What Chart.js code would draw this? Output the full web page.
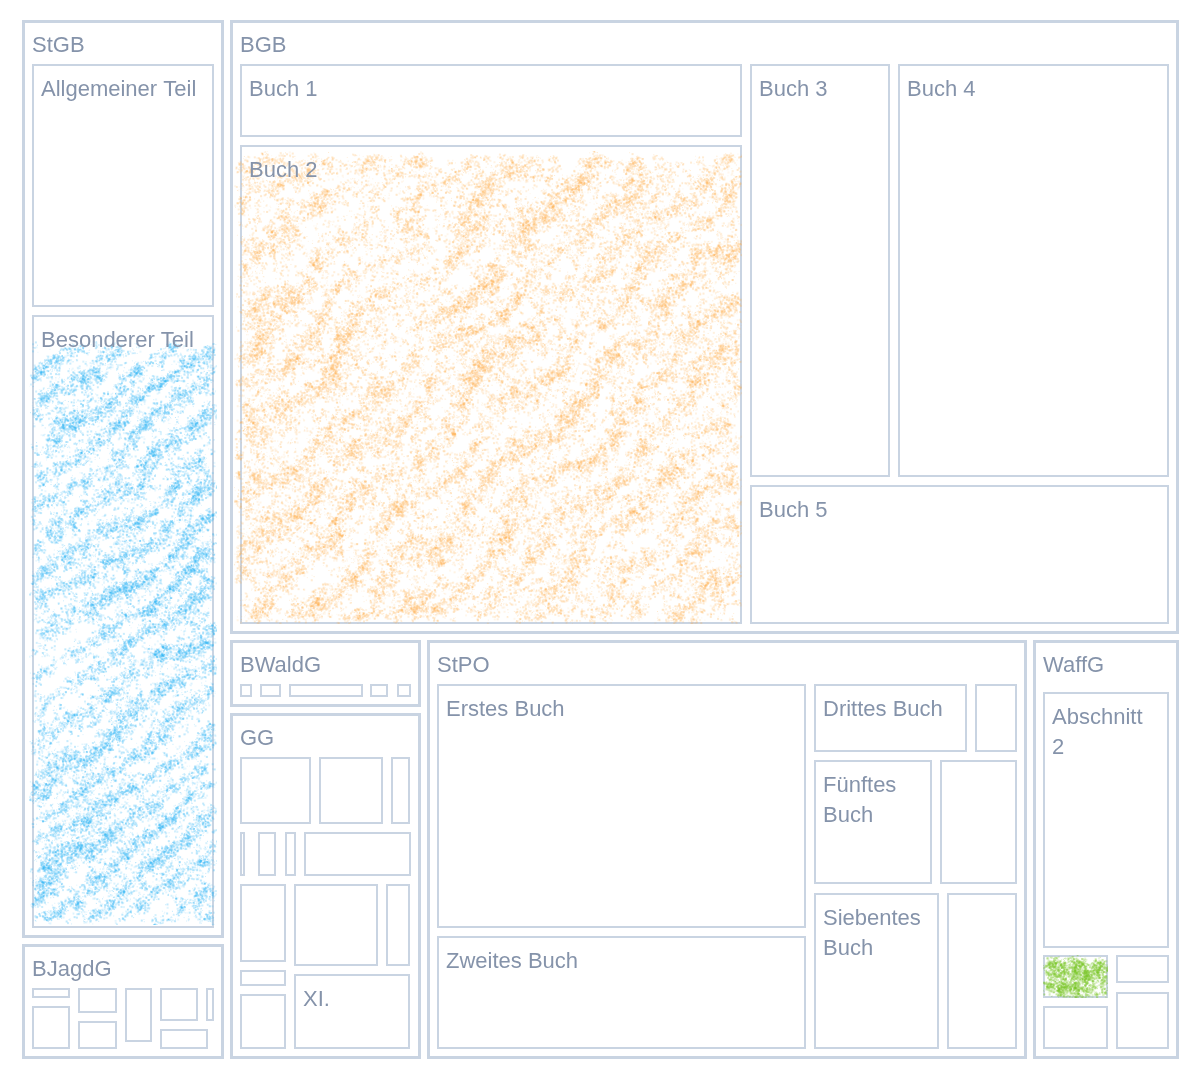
<!DOCTYPE html>
<html>
<head>
<meta charset="utf-8">
<script src="https://cdn.jsdelivr.net/npm/chart.js@4.4.1/dist/chart.umd.min.js"></script>
<style>
  html, body { margin: 0; padding: 0; background: #ffffff; }
  #wrap { width: 1196px; height: 1080px; }
  canvas { display: block; }
</style>
</head>
<body>
<div id="wrap"><canvas id="c" width="1196" height="1080" style="width:1196px;height:1080px"></canvas></div>
<script>
// ---------------- DATA ----------------
const laws = ['StGB', 'BJagdG', 'BGB', 'BWaldG', 'GG', 'StPO', 'WaffG'];

const stgbLabels = ['Allgemeiner Teil', 'Besonderer Teil'];
const stgbValues = [55.26, 136.93];

const bjagdgLabels = ['', '', '', '', '', '', '', '', '', ''];
const bjagdgValues = [1.567, 4.526, 2.935, 3.291, 4.173, 0.464, 3.656, 1.272, 2.967, 0.318];

const bgbLabels = ['Buch 1', 'Buch 2', 'Buch 3', 'Buch 4', 'Buch 5'];
const bgbValues = [46.12, 275.84, 69.28, 130.83, 70.03];

const bwaldgLabels = ['', '', '', '', ''];
const bwaldgValues = [1.604, 2.305, 6.560, 2.128, 1.749];

const ggLabels = ['', '', '', '', '', '', '', '', '', '', '', '', '', 'XI.'];
const ggValues = [7.675, 6.995, 2.623, 0.842, 0.391, 1.778, 1.280, 7.699, 6.015, 1.658, 4.427, 10.725, 3.730, 13.331];

const stpoLabels = ['Erstes Buch', 'Zweites Buch', 'Drittes Buch', 'Viertes Buch', 'Fünftes Buch', 'Sechstes Buch', 'Siebentes Buch', 'Achtes Buch'];
const stpoValues = [111.73, 53.58, 14.42, 4.45, 19.54, 13.30, 25.65, 15.09];

const waffgLabels = ['Abschnitt 1', 'Abschnitt 2', 'Abschnitt 3', 'Abschnitt 4', 'Abschnitt 5', 'Abschnitt 6'];
const waffgValues = [1.334, 45.652, 4.844, 4.778, 2.860, 5.131];

// highlighted leaves (law, part)
const highlighted = [['StGB', 'Besonderer Teil'], ['BGB', 'Buch 2'], ['WaffG', 'Abschnitt 3']];

// ---------------- STYLE ----------------
const STYLE = {
  font: '22px "Liberation Sans", Arial, Helvetica, sans-serif',
  text: '#8593aa',
  border: '#c9d4e2',
  rootGap: 3,
  groupBorder: 3,
  groupPad: { l: 6, r: 6, t: 40, b: 6 },
  leafGap: 4,
  leafBorder: 2,
  labelX: 9,
  labelY: 31.5,
  lineH: 30,
  crayon: [
    { color: '#22b2f6', alpha: 0.20, density: 0.24, clump: 5, base: 0.12, amp: 0.85, period: 27, angle: 36, fine: 7, seed: 11, inset: { l: -3, t: 26, r: -3, b: 3 } },
    { color: '#ffb04d', alpha: 0.19, density: 0.22, clump: 5, base: 0.20, amp: 0.70, period: 40, angle: 45, fine: 7, seed: 23, inset: { l: -6, t: 6, r: 0, b: 0 } },
    { color: '#7cc82a', alpha: 0.28, density: 0.40, clump: 6, base: 0.55, amp: 0.30, period: 18, angle: 40, fine: 6, seed: 37, inset: { l: 0, t: 0, r: 0, b: 0 } }
  ]
};

// ---------------- TREE ----------------
const lawParts = [
  [stgbLabels, stgbValues], [bjagdgLabels, bjagdgValues], [bgbLabels, bgbValues],
  [bwaldgLabels, bwaldgValues], [ggLabels, ggValues], [stpoLabels, stpoValues], [waffgLabels, waffgValues]
];
const tree = laws.map((law, i) => {
  const [labels, values] = lawParts[i];
  const children = values.map((v, j) => {
    const hi = highlighted.findIndex(h => h[0] === law && h[1] === labels[j]);
    return { label: labels[j], value: v, crayon: hi };
  });
  return { label: law, value: values.reduce((a, b) => a + b, 0), children };
});

// ---------------- SQUARIFY (golden-ratio target) ----------------
const RATIO = 0.5 * (1 + Math.sqrt(5));
function worst(row, fixed) {
  let mx = 0, mn = Infinity;
  for (const n of row) { if (n.area) { if (n.area < mn) mn = n.area; if (n.area > mx) mx = n.area; } }
  const sq = row.area * row.area;
  const f = fixed * fixed * RATIO;
  return sq ? Math.max(f * mx / sq, sq / (f * mn)) : Infinity;
}
function place(row, fixed, r, flush) {
  const horizontal = fixed === r.w;
  let other = fixed ? row.area / fixed : 0;
  const avail = horizontal ? r.h : r.w;
  if (flush || other > avail) other = avail;
  let last = horizontal ? r.x : r.y;
  const end = horizontal ? r.x + r.w : r.y + r.h;
  row.forEach((n, i) => {
    const step = other ? n.area / other : 0;
    const remain = end - last;
    const len = (i === row.length - 1 || remain < step) ? remain : step;
    if (horizontal) { n.x = last; n.y = r.y; n.w = len; n.h = other; }
    else { n.x = r.x; n.y = last; n.w = other; n.h = len; }
    last += len;
  });
  if (horizontal) { r.y += other; r.h -= other; } else { r.x += other; r.w -= other; }
}
function squarify(items, rect) {
  const total = items.reduce((a, b) => a + b.value, 0);
  const k = rect.w * rect.h / total;
  const nodes = items.map(it => ({ item: it, area: it.value * k }));
  const r = { x: rect.x, y: rect.y, w: rect.w, h: rect.h };
  let fixed = Math.min(r.w, r.h);
  let row = []; row.area = 0;
  let best = Infinity;
  for (let i = 0; i < nodes.length;) {
    row.push(nodes[i]); row.area += nodes[i].area;
    const s = worst(row, fixed);
    if (s <= best) { i++; best = s; }
    else {
      row.area -= row.pop().area;
      place(row, fixed, r, false);
      fixed = Math.min(r.w, r.h);
      row = []; row.area = 0; best = Infinity;
    }
  }
  if (row.length) place(row, fixed, r, true);
  return nodes;
}

// ---------------- CRAYON TEXTURE (deterministic) ----------------
function mulberry32(a) {
  return function () {
    a |= 0; a = a + 0x6D2B79F5 | 0;
    let t = Math.imul(a ^ a >>> 15, 1 | a);
    t = t + Math.imul(t ^ t >>> 7, 61 | t) ^ t;
    return ((t ^ t >>> 14) >>> 0) / 4294967296;
  };
}
function hash2(ix, iy, s) {
  let h = Math.imul(ix, 374761393) + Math.imul(iy, 668265263) + Math.imul(s, 982451653);
  h = Math.imul(h ^ (h >>> 13), 1274126177);
  h = h ^ (h >>> 16);
  return (h >>> 0) / 4294967296;
}
function vnoise(x, y, s) {
  const ix = Math.floor(x), iy = Math.floor(y), fx = x - ix, fy = y - iy;
  const sx = fx * fx * (3 - 2 * fx), sy = fy * fy * (3 - 2 * fy);
  const a = hash2(ix, iy, s), b = hash2(ix + 1, iy, s), c = hash2(ix, iy + 1, s), d = hash2(ix + 1, iy + 1, s);
  return a + (b - a) * sx + (c - a) * sy + (a - b - c + d) * sx * sy;
}
function crayon(ctx, box, st) {
  const x = box.x + st.inset.l, y = box.y + st.inset.t;
  const w = box.w - st.inset.l - st.inset.r, h = box.h - st.inset.t - st.inset.b;
  if (w <= 0 || h <= 0) return;
  const rnd = mulberry32(st.seed);
  ctx.save();
  ctx.beginPath(); ctx.rect(x - 2, y - 2, w + 4, h + 4); ctx.clip();
  ctx.fillStyle = st.color;
  const n = Math.round(w * h * st.density);
  const a = st.angle * Math.PI / 180;
  const nx = Math.sin(a), ny = Math.cos(a);
  for (let i = 0; i < n; i++) {
    const px = x + rnd() * w, py = y + rnd() * h;
    const u = px * nx + py * ny;
    const warp = 2.0 * (vnoise(px / 50, py / 50, st.seed + 1) - 0.5) * Math.PI;
    const band = 0.5 + 0.5 * Math.sin(u / st.period * 2 * Math.PI + warp);
    const fine = vnoise(px / st.fine, py / st.fine, st.seed + 2);
    const broad = vnoise(px / 70, py / 70, st.seed + 3);
    const dEdge = Math.min(px - x, x + w - px, py - y, y + h - py);
    const edge = Math.max(0, Math.min(1, (dEdge + 10 * (vnoise(px / 10, py / 10, st.seed + 4) - 0.3)) / 8));
    const p = (st.base + st.amp * band * band) * (0.2 + 1.1 * fine) * (0.55 + 0.75 * broad) * edge;
    if (rnd() > p) { rnd(); continue; }
    const k = 2 + Math.floor(rnd() * st.clump);
    for (let j = 0; j < k; j++) {
      const dx = (rnd() - 0.5) * 6, dy = (rnd() - 0.5) * 6;
      ctx.globalAlpha = st.alpha * (0.5 + rnd());
      const s = rnd() < 0.5 ? 1 : 2;
      ctx.fillRect(px + dx, py + dy, s, s);
    }
  }
  ctx.restore();
}

// ---------------- DRAWING ----------------
function box(ctx, x, y, w, h, bw) {
  x = Math.round(x); y = Math.round(y); w = Math.round(w); h = Math.round(h);
  if (w <= 0 || h <= 0) return null;
  ctx.fillStyle = STYLE.border;
  ctx.fillRect(x, y, w, h);
  const iw = w - 2 * bw, ih = h - 2 * bw;
  if (iw > 0 && ih > 0) { ctx.fillStyle = '#ffffff'; ctx.fillRect(x + bw, y + bw, iw, ih); }
  return { x, y, w, h, ix: x + bw, iy: y + bw, iw, ih };
}
function wrap(ctx, text, maxW) {
  const words = text.split(' ');
  const lines = [];
  let cur = '';
  for (const w of words) {
    if (ctx.measureText(w).width > maxW) return null;
    const t = cur ? cur + ' ' + w : w;
    if (ctx.measureText(t).width <= maxW) cur = t;
    else { lines.push(cur); cur = w; }
  }
  if (cur) lines.push(cur);
  return lines;
}
function label(ctx, text, b) {
  if (!text || !b) return;
  ctx.font = STYLE.font;
  const lines = wrap(ctx, text, b.w - 2 * STYLE.labelX);
  if (!lines) return;
  if (STYLE.labelY + (lines.length - 1) * STYLE.lineH + 6 > b.h) return;
  ctx.globalAlpha = 1;
  ctx.fillStyle = STYLE.text;
  ctx.textBaseline = 'alphabetic';
  ctx.textAlign = 'left';
  lines.forEach((ln, i) => ctx.fillText(ln, b.x + STYLE.labelX, b.y + STYLE.labelY + i * STYLE.lineH));
}
function inset(r, l, t, rr, bb) {
  return { x: r.x + l, y: r.y + t, w: Math.max(r.w - l - rr, 0), h: Math.max(r.h - t - bb, 0) };
}

const treemapPlugin = {
  id: 'treemapDraw',
  afterDatasetsDraw(chart) {
    const ctx = chart.ctx;
    const xs = chart.scales.x, ys = chart.scales.y;
    const x0 = xs.getPixelForValue(0), x1 = xs.getPixelForValue(1);
    const y0 = ys.getPixelForValue(0), y1 = ys.getPixelForValue(1);
    const root = { x: Math.min(x0, x1), y: Math.min(y0, y1), w: Math.abs(x1 - x0), h: Math.abs(y1 - y0) };
    const groups = squarify(chart.data.datasets[0].tree, root);
    ctx.save();
    for (const g of groups) {
      const gr = inset(g, STYLE.rootGap, STYLE.rootGap, STYLE.rootGap, STYLE.rootGap);
      const gb = box(ctx, gr.x, gr.y, gr.w, gr.h, STYLE.groupBorder);
      if (!gb) continue;
      ctx.globalAlpha = 1;
      ctx.font = STYLE.font;
      ctx.fillStyle = STYLE.text;
      ctx.textBaseline = 'alphabetic';
      ctx.fillText(g.item.label, gb.x + STYLE.labelX + 1, gb.y + STYLE.labelY);
      const p = STYLE.groupPad;
      const area = inset(gr, p.l, p.t, p.r, p.b);
      const leaves = squarify(g.item.children, area);
      for (const l of leaves) {
        const lr = inset(l, STYLE.leafGap, STYLE.leafGap, STYLE.leafGap, STYLE.leafGap);
        const lb = box(ctx, lr.x, lr.y, lr.w, lr.h, STYLE.leafBorder);
        if (!lb) continue;
        if (l.item.crayon >= 0 && lb.iw > 0 && lb.ih > 0) {
          crayon(ctx, { x: lb.ix, y: lb.iy, w: lb.iw, h: lb.ih }, STYLE.crayon[l.item.crayon]);
          ctx.globalAlpha = 1;
        }
        label(ctx, l.item.label, lb);
      }
    }
    ctx.restore();
  }
};

new Chart(document.getElementById('c'), {
  type: 'scatter',
  data: { datasets: [{ label: 'Gesetze', data: [], tree }] },
  options: {
    responsive: false,
    animation: false,
    events: [],
    layout: { padding: { left: 19, right: 14, top: 17, bottom: 18 } },
    scales: {
      x: { type: 'linear', min: 0, max: 1, display: false },
      y: { type: 'linear', min: 0, max: 1, reverse: true, display: false }
    },
    plugins: { legend: { display: false }, tooltip: { enabled: false }, title: { display: false } }
  },
  plugins: [treemapPlugin]
});
</script>
</body>
</html>
